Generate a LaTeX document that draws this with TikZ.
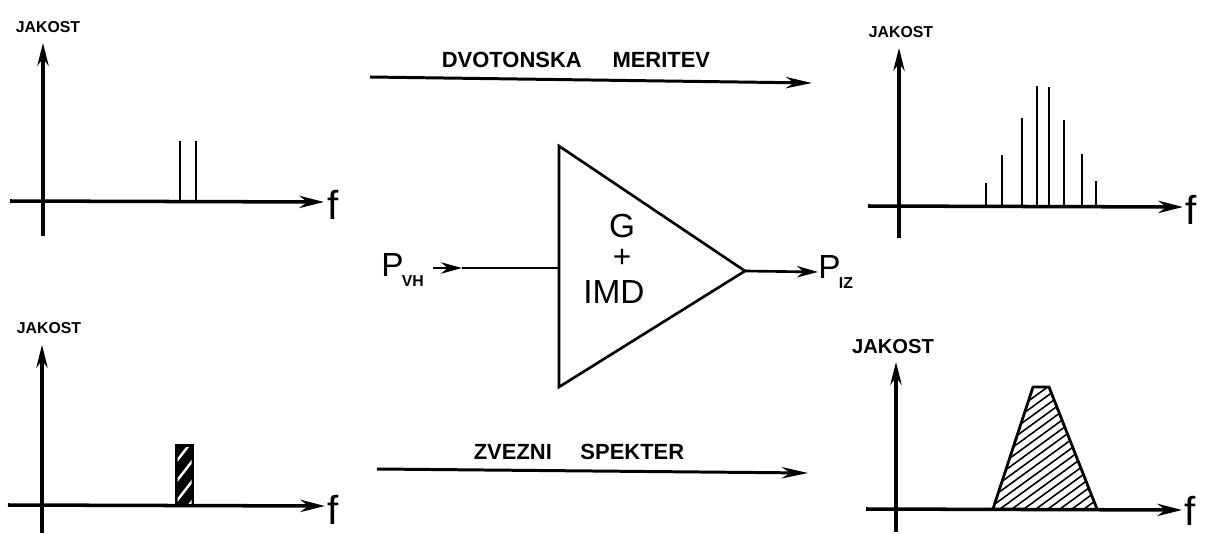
\documentclass[tikz,border=0pt]{standalone}
\usepackage{fontspec}
\setmainfont{Liberation Sans}
\usetikzlibrary{arrows.meta}
\begin{document}
\begin{tikzpicture}[x=0.02cm,y=-0.02cm,
  axis/.style={line width=2pt,-{Stealth[length=14pt,width=7pt]}},
  yaxis/.style={line width=1.8pt,-{Stealth[length=13pt,width=6.5pt]}},
  longarrow/.style={line width=1.7pt,-{Stealth[length=15pt,width=6.5pt]}},
  specline/.style={line width=1.5pt},
  flabel/.style={font=\fontsize{23}{23}\selectfont,inner sep=0pt},
  jlabel/.style={font=\bfseries\fontsize{9}{10}\selectfont,inner sep=0pt},
  biglabel/.style={font=\bfseries\fontsize{12.5}{13}\selectfont,inner sep=0pt},
  amp/.style={line width=1.5pt},
  amptext/.style={font=\fontsize{19}{19}\selectfont,inner sep=0pt},
  plabel/.style={font=\fontsize{19}{19}\selectfont,inner sep=0pt}]
\useasboundingbox (0,0) rectangle (1205,534);

% ---------- top-left panel ----------
\coordinate (tlyb) at (43,236);
\coordinate (tlyt) at (43,43);
\coordinate (tlxl) at (10,201);
\coordinate (tlxr) at (324,202);
\draw[yaxis] (tlyb) -- (tlyt);
\draw[axis] (tlxl) -- (tlxr);
\node[flabel] (tlf) at (333,205) {f};
\node[jlabel] (tlj) at (48,27) {JAKOST};
\draw[specline] (180,201) -- (180,141);
\draw[specline] (196,201) -- (196,141);

% ---------- top-right panel ----------
\coordinate (tryb) at (899,238);
\coordinate (tryt) at (899,48);
\coordinate (trxl) at (868,206);
\coordinate (trxr) at (1183,207);
\draw[yaxis] (tryb) -- (tryt);
\draw[axis] (trxl) -- (trxr);
\node[flabel] (trf) at (1191,210) {f};
\node[jlabel] (trj) at (901,32) {JAKOST};
\foreach \x/\t in {986/183,1002/155,1022/118,1037/86,1049/87,1064/120,1082/154,1096/181}
  \draw[specline] (\x,206) -- (\x,\t);

% ---------- bottom-left panel ----------
\coordinate (blyb) at (42,533);
\coordinate (blyt) at (42,345);
\coordinate (blxl) at (8,505);
\coordinate (blxr) at (325,506);
\draw[yaxis] (blyb) -- (blyt);
\draw[axis] (blxl) -- (blxr);
\node[flabel] (blf) at (333,510) {f};
\node[jlabel] (blj) at (49,328) {JAKOST};
\fill[black] (175,444) rectangle (194,505);
\begin{scope}
  \clip (177.5,447) rectangle (191.5,503);
  \foreach \y in {462,482,502,522}
    \draw[white,line width=1.4pt] (176,\y) -- (193,\y-22);
\end{scope}

% ---------- bottom-right panel ----------
\coordinate (bryb) at (896,532);
\coordinate (bryt) at (896,362);
\coordinate (brxl) at (866,509);
\coordinate (brxr) at (1182,510);
\coordinate (tzbl) at (993,509);
\coordinate (tztl) at (1033,387);
\coordinate (tztr) at (1049,387);
\coordinate (tzbr) at (1097,509);
\begin{scope}
  \clip (tzbl) -- (tztl) -- (tztr) -- (tzbr) -- cycle;
  \foreach \x in {880,892,...,1100}
    \draw[line width=0.9pt] (\x,509) -- (\x+180,509-131);
\end{scope}
\draw[line width=1.6pt,line join=round] (tzbl) -- (tztl) -- (tztr) -- (tzbr);
\draw[yaxis] (bryb) -- (bryt);
\draw[axis] (brxl) -- (brxr);
\node[flabel] (brf) at (1190,511) {f};
\node[jlabel,font=\bfseries\fontsize{11.5}{12}\selectfont] (brj) at (893,347) {JAKOST};

% ---------- top arrow ----------
\coordinate (tas) at (370,77);
\coordinate (tae) at (812,83);
\draw[longarrow] (tas) -- (tae);
\node[biglabel] (tal) at (576,60) {DVOTONSKA\hspace{1.4em}MERITEV};

% ---------- bottom arrow ----------
\coordinate (bas) at (377,469);
\coordinate (bae) at (808,473);
\draw[longarrow] (bas) -- (bae);
\node[biglabel] (bal) at (579,452) {ZVEZNI\hspace{1.3em}SPEKTER};

% ---------- amplifier ----------
\coordinate (at) at (559,146);
\coordinate (ab) at (559,387);
\coordinate (aout) at (745,271);
\coordinate (ain) at (559,268);
\draw[amp,line join=miter] (at) -- (aout) -- (ab) -- cycle;
\node[amptext] (ampg) at (622,226) {G};
\node[amptext,font=\fontsize{18}{18}\selectfont] (ampp) at (622,258) {+};
\node[amptext] (ampi) at (614,292) {IMD};

\node[plabel,anchor=west] (pvh) at (381,270) {P\kern-1pt\raisebox{-0.28em}{\bfseries\fontsize{9}{9}\selectfont VH}};
\coordinate (inA) at (433,268);
\coordinate (inB) at (462,268);
\draw[line width=1.5pt,-{Stealth[length=12pt,width=6.5pt]}] (inA) -- (inB);
\draw[line width=1.5pt] (inB) -- (ain);

\node[plabel,anchor=west] (piz) at (818,272) {P\kern-1pt\raisebox{-0.28em}{\bfseries\fontsize{9}{9}\selectfont IZ}};
\draw[line width=1.5pt,-{Stealth[length=12pt,width=6.5pt]}] (aout) -- (piz.west);
\end{tikzpicture}
\end{document}
